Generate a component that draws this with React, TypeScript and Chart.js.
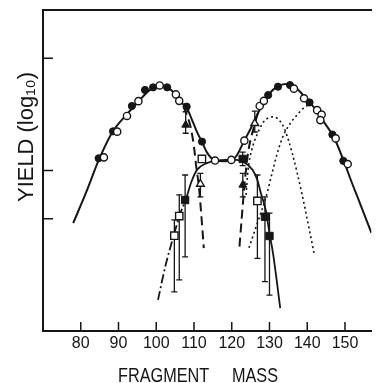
import React, { useEffect, useRef } from "react";
import { Chart, registerables } from "chart.js";

Chart.register(...registerables);

// ---------- axes ----------
const X_MIN = 70;
const X_MAX = 157;
const Y_MIN = 0;
const Y_MAX = 10;
const xTickValues = [80, 90, 100, 110, 120, 130, 140, 150];
const xTickLabels = ["80", "90", "100", "110", "120", "130", "140", "150"];
const yTickValues = [3.5, 5, 8.5];
const xTitle = "FRAGMENT     MASS";
const yTitle = "YIELD (log\u2081\u2080)";

// ---------- curves ----------
const mainCurveX = [78.0, 81.5, 84.9, 88.4, 92.2, 95.3, 98.0, 100.9, 103.0, 105.0, 106.6, 108.1, 109.5, 111.0, 112.1, 113.5, 115.5, 118.0, 120.0, 121.5, 123.3, 125.0, 127.0, 128.5, 130.0, 132.2, 135.0, 137.5, 140.0, 142.6, 144.5, 147.0, 149.6, 151.5, 154.0, 157.0];
const mainCurveY = [3.36, 4.34, 5.36, 6.2, 6.75, 7.15, 7.48, 7.65, 7.6, 7.38, 7.12, 6.95, 6.57, 6.15, 5.9, 5.55, 5.32, 5.29, 5.32, 5.5, 5.93, 6.3, 6.8, 7.13, 7.4, 7.62, 7.7, 7.52, 7.2, 6.85, 6.5, 6.05, 5.32, 4.72, 3.97, 3.06];

const innerArchX = [100.47, 102.5, 104.6, 106.2, 107.8, 109.3, 110.8, 113.4, 116.0, 118.5, 121.2, 123.3, 125.5, 126.8, 127.7, 129.0, 130.0, 131.0, 132.85];
const innerArchY = [0.97, 2.06, 2.96, 3.61, 4.08, 4.64, 5.02, 5.23, 5.31, 5.33, 5.33, 5.26, 5.02, 4.7, 4.3, 3.77, 3.05, 2.37, 0.71];

const leftDashX = [107.2, 108.2, 109.1, 110.0, 110.6, 111.3, 111.9, 112.6];
const leftDashY = [7.0, 6.7, 6.36, 5.74, 5.12, 4.5, 3.67, 2.58];

const rightDashX = [122.05, 122.75, 123.34, 123.96, 124.6, 125.9, 127.2, 128.5];
const rightDashY = [2.63, 3.67, 4.5, 5.22, 5.74, 6.36, 6.88, 7.2];

const dotAX = [123.8, 124.3, 125.3, 126.9, 128.4, 130.8, 132.3, 133.9, 136.0, 138.55, 141.9];
const dotAY = [4.24, 5.0, 5.64, 6.17, 6.51, 6.67, 6.6, 6.32, 5.55, 4.3, 2.37];

const dotBX = [124.56, 126.9, 129.0, 130.5, 132.1, 133.6, 135.4, 137.3, 139.1, 140.9, 141.8];
const dotBY = [2.59, 3.4, 4.14, 4.83, 5.55, 6.07, 6.45, 6.73, 6.95, 7.05, 7.0];

// ---------- data points ----------
const filledCircleX = [84.74, 88.55, 93.55, 97.02, 99.17, 102.88, 108.06, 112.12, 129.66, 132.25, 135.44, 140.62, 146.66, 149.56];
const filledCircleY = [5.38, 6.22, 7.01, 7.51, 7.59, 7.59, 6.99, 5.9, 7.35, 7.61, 7.66, 7.12, 6.12, 5.3];

const openCircleX = [86.14, 89.66, 92.25, 95.28, 100.91, 105.21, 106.09, 115.57, 119.9, 123.34, 127.41, 128.52, 136.48, 139.15, 142.62, 143.81, 143.47, 147.54, 150.73];
const openCircleY = [5.41, 6.21, 6.7, 7.16, 7.65, 7.37, 7.17, 5.31, 5.33, 5.93, 7.01, 7.17, 7.55, 7.25, 6.88, 6.74, 6.57, 6.0, 5.2];

const filledSquareX = [107.65, 122.9, 128.8, 130.0];
const filledSquareY = [4.08, 5.36, 3.56, 2.96];
const filledSquareLo = [2.31, 5.15, 1.54, 1.12];
const filledSquareHi = [4.86, 5.57, 4.18, 3.67];

const openSquareX = [104.8, 106.1, 112.1, 126.8];
const openSquareY = [2.97, 3.58, 5.36, 4.05];
const openSquareLo = [1.22, 1.59, null, 2.26];
const openSquareHi = [3.46, 4.24, null, 4.86];

const filledTriangleX = [107.8, 122.93];
const filledTriangleY = [6.42, 4.55];
const filledTriangleLo = [6.16, 4.18];
const filledTriangleHi = [6.83, 4.91];

const openTriangleX = [111.7, 126.1];
const openTriangleY = [4.58, 6.47];
const openTriangleLo = [4.18, 6.2];
const openTriangleHi = [4.91, 6.85];

const INK = "#161616";

function pts(xs: number[], ys: number[]) {
  return xs.map((x, i) => ({ x, y: ys[i] }));
}

function lineDs(xs: number[], ys: number[], dash: number[], width: number, extra: any = {}) {
  return {
    data: pts(xs, ys),
    showLine: true,
    borderColor: INK,
    borderWidth: width,
    borderDash: dash,
    pointRadius: 0,
    pointHoverRadius: 0,
    fill: false,
    cubicInterpolationMode: "monotone",
    order: 2,
    ...extra,
  };
}

function markerDs(xs: number[], ys: number[], style: string, filled: boolean, radius: number, lo?: any[], hi?: any[]) {
  return {
    data: pts(xs, ys),
    showLine: false,
    pointStyle: style,
    pointRadius: radius,
    pointHoverRadius: radius,
    pointBackgroundColor: filled ? INK : "#ffffff",
    pointBorderColor: INK,
    pointBorderWidth: filled ? 1 : 1.4,
    order: 0,
    errLo: lo,
    errHi: hi,
  };
}

export default function App() {
  const ref = useRef<HTMLCanvasElement>(null);

  useEffect(() => {
    const canvas = ref.current;
    if (!canvas) return;

    const errorBars = {
      id: "errorBars",
      beforeDatasetsDraw(chart: any) {
        const ctx = chart.ctx;
        const ys = chart.scales.y;
        ctx.save();
        ctx.strokeStyle = INK;
        ctx.lineWidth = 1.3;
        chart.data.datasets.forEach((ds: any, i: number) => {
          if (!ds.errLo) return;
          const meta = chart.getDatasetMeta(i);
          meta.data.forEach((el: any, j: number) => {
            const lo = ds.errLo[j];
            const hi = ds.errHi[j];
            if (lo == null || hi == null) return;
            const x = el.x;
            const yl = ys.getPixelForValue(lo);
            const yh = ys.getPixelForValue(hi);
            ctx.beginPath();
            ctx.moveTo(x, yl);
            ctx.lineTo(x, yh);
            ctx.moveTo(x - 3, yl);
            ctx.lineTo(x + 3, yl);
            ctx.moveTo(x - 3, yh);
            ctx.lineTo(x + 3, yh);
            ctx.stroke();
          });
        });
        ctx.restore();
      },
    };

    const frame = {
      id: "frame",
      afterDraw(chart: any) {
        const ctx = chart.ctx;
        const xs = chart.scales.x;
        const ys = chart.scales.y;
        const area = chart.chartArea;
        ctx.save();
        ctx.strokeStyle = INK;
        ctx.lineWidth = 1.5;
        ctx.beginPath();
        xTickValues.forEach((v) => {
          const px = xs.getPixelForValue(v);
          ctx.moveTo(px, area.bottom);
          ctx.lineTo(px, area.bottom - 9);
        });
        yTickValues.forEach((v) => {
          const py = ys.getPixelForValue(v);
          ctx.moveTo(area.left, py);
          ctx.lineTo(area.left + 10, py);
        });
        ctx.stroke();

        ctx.fillStyle = INK;
        ctx.font = '21px "Liberation Sans", Arial, sans-serif';
        ctx.textAlign = "center";
        ctx.textBaseline = "alphabetic";
        ctx.fillText(xTitle, 198, 382, 160);

        ctx.translate(33, 137);
        ctx.rotate(-Math.PI / 2);
        ctx.font = '22px "Liberation Sans", Arial, sans-serif';
        ctx.fillText(yTitle, 0, 0, 130);
        ctx.restore();
      },
    };

    const datasets: any[] = [
      markerDs(openCircleX, openCircleY, "circle", false, 3.6),
      markerDs(filledCircleX, filledCircleY, "circle", true, 3.6),
      markerDs(openSquareX, openSquareY, "rect", false, 5.2, openSquareLo, openSquareHi),
      markerDs(filledSquareX, filledSquareY, "rect", true, 5.2, filledSquareLo, filledSquareHi),
      markerDs(openTriangleX, openTriangleY, "triangle", false, 4.5, openTriangleLo, openTriangleHi),
      markerDs(filledTriangleX, filledTriangleY, "triangle", true, 4.5, filledTriangleLo, filledTriangleHi),
      lineDs(mainCurveX, mainCurveY, [], 2),
      lineDs(innerArchX, innerArchY, [], 1.8, {
        segment: {
          borderDash: (c: any) => (c.p1.parsed.x <= 107.9 ? [9, 3, 2, 3] : undefined),
        },
      }),
      lineDs(leftDashX, leftDashY, [9, 5], 2),
      lineDs(rightDashX, rightDashY, [9, 5], 2),
      lineDs(dotAX, dotAY, [2, 3], 1.6),
      lineDs(dotBX, dotBY, [2, 3], 1.6),
    ];

    const chart = new Chart(canvas, {
      type: "scatter",
      data: { datasets },
      plugins: [errorBars, frame],
      options: {
        responsive: false,
        devicePixelRatio: 1,
        animation: false,
        events: [],
        layout: { padding: 0 },
        plugins: {
          legend: { display: false },
          tooltip: { enabled: false },
          title: { display: false },
        },
        scales: {
          x: {
            type: "linear",
            position: "bottom",
            min: X_MIN,
            max: X_MAX,
            afterBuildTicks: (scale: any) => {
              scale.ticks = xTickValues.map((v) => ({ value: v }));
            },
            afterFit: (scale: any) => {
              scale.height = 52;
            },
            ticks: {
              autoSkip: false,
              maxRotation: 0,
              padding: 3,
              color: INK,
              font: { family: '"Liberation Sans", Arial, sans-serif', size: 16 },
              callback: (_v: any, i: number) => xTickLabels[i],
            },
            grid: { drawOnChartArea: false, drawTicks: false },
            border: { display: true, color: INK, width: 2 },
          },
          xTop: {
            type: "linear",
            position: "top",
            min: X_MIN,
            max: X_MAX,
            afterFit: (scale: any) => {
              scale.height = 10;
            },
            ticks: { display: false },
            grid: { drawOnChartArea: false, drawTicks: false },
            border: { display: true, color: INK, width: 2 },
          },
          y: {
            type: "linear",
            position: "left",
            min: Y_MIN,
            max: Y_MAX,
            afterFit: (scale: any) => {
              scale.width = 43;
            },
            ticks: { display: false },
            grid: { drawOnChartArea: false, drawTicks: false },
            border: { display: true, color: INK, width: 2 },
          },
        },
      } as any,
    });

    return () => chart.destroy();
  }, []);

  return (
    <div style={{ position: "absolute", left: 0, top: 0, width: 378, height: 383, background: "#ffffff" }}>
      <canvas ref={ref} width={378} height={383} style={{ display: "block", width: 378, height: 383 }} />
    </div>
  );
}
